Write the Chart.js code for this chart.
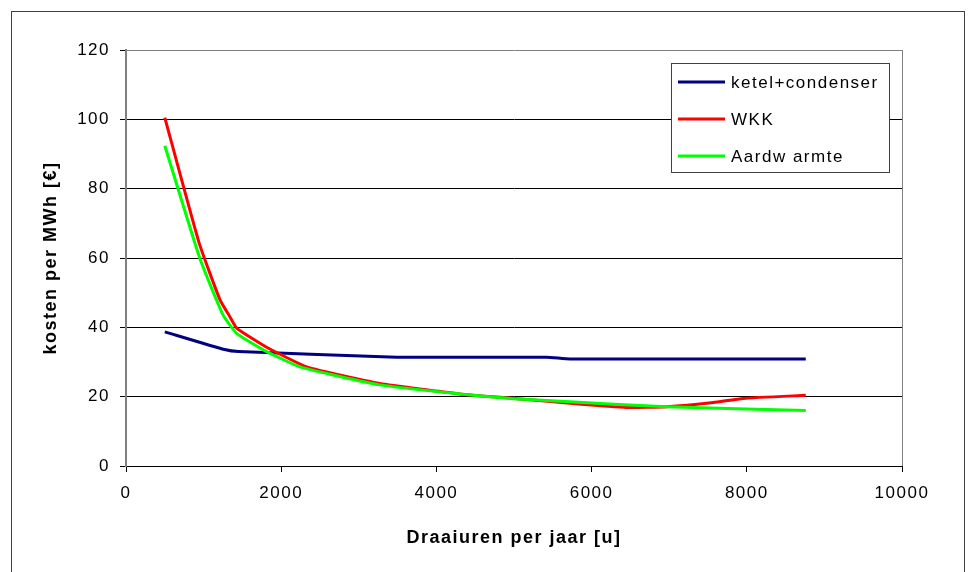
<!DOCTYPE html>
<html>
<head>
<meta charset="utf-8">
<script src="https://cdn.jsdelivr.net/npm/chart.js@4/dist/chart.umd.min.js"></script>
<style>
  html, body { margin: 0; padding: 0; background: #fff; }
  #wrap { width: 968px; height: 572px; }
</style>
</head>
<body>
<div id="wrap"><canvas id="c" width="968" height="572"></canvas></div>
<script>
// Kosten per MWh als functie van het aantal draaiuren per jaar
const seriesNames = ['ketel+condenser', 'WKK', 'Aardw armte'];
const seriesColors = ['#000080', '#FF0000', '#00FF00'];
const drawOrder = [2, 1, 0]; // green on top, then red, then blue

const ketelHours = [500, 1270, 1450, 3490, 5420, 5720, 8760];
const ketelCost  = [38.7, 33.6, 33.0, 31.4, 31.4, 30.9, 30.9];

const wkkHours = [500, 940, 1210, 1340, 1430, 1800, 2330, 3270, 4300, 5000, 5720, 6450, 6970, 7570, 7950, 8760];
const wkkCost  = [100.5, 64.5, 48.0, 43.0, 39.7, 34.4, 28.6, 23.8, 20.8, 19.5, 18.1, 16.9, 17.1, 18.3, 19.5, 20.4];

const aardHours = [500, 950, 1250, 1430, 1770, 2240, 3270, 4300, 5000, 5720, 6970, 8760];
const aardCost  = [92.4, 60.0, 43.6, 38.2, 33.5, 28.6, 23.4, 20.8, 19.4, 18.5, 17.1, 16.0];

const xTitle = 'Draaiuren per jaar [u]';
const yTitle = 'kosten per MWh [€]';

const toPoints = (xs, ys) => xs.map((x, i) => ({ x: x, y: ys[i] }));
const seriesData = [
  toPoints(ketelHours, ketelCost),
  toPoints(wkkHours, wkkCost),
  toPoints(aardHours, aardCost)
];

const FONT = "'Liberation Sans', Arial, sans-serif";

// Wider letter spacing for all canvas text, plus the outer frame
const spacingPlugin = {
  id: 'spacing',
  beforeLayout(chart) { chart.ctx.letterSpacing = '1.5px'; },
  beforeDraw(chart) {
    const ctx = chart.ctx;
    ctx.letterSpacing = '1.5px';
    ctx.save();
    ctx.fillStyle = '#fff';
    ctx.fillRect(0, 0, chart.width, chart.height);
    ctx.strokeStyle = '#404040';
    ctx.lineWidth = 1;
    ctx.strokeRect(11.5, 11.5, 953, 620);
    ctx.restore();
  }
};

// Legend box inside the plot area
const boxLegend = {
  id: 'boxLegend',
  afterDraw(chart) {
    const ctx = chart.ctx;
    ctx.save();
    ctx.letterSpacing = '1.5px';
    ctx.fillStyle = '#fff';
    ctx.fillRect(671.5, 63.5, 218, 109);
    ctx.strokeStyle = '#404040';
    ctx.lineWidth = 1;
    ctx.strokeRect(671.5, 63.5, 218, 109);
    const rows = [82, 119, 156];
    chart.data.datasets.forEach((ds, i) => {
      ctx.strokeStyle = ds.borderColor;
      ctx.lineWidth = 3;
      ctx.beginPath();
      ctx.moveTo(678, rows[i]);
      ctx.lineTo(725, rows[i]);
      ctx.stroke();
      ctx.fillStyle = '#000';
      ctx.font = '17px ' + FONT;
      ctx.textAlign = 'left';
      ctx.textBaseline = 'middle';
      ctx.fillText(ds.label, 731, rows[i] + 1);
    });
    ctx.restore();
  }
};

new Chart(document.getElementById('c'), {
  type: 'scatter',
  data: {
    datasets: seriesData.map((pts, i) => ({
      label: seriesNames[i],
      data: pts,
      order: drawOrder[i],
      showLine: true,
      borderColor: seriesColors[i],
      backgroundColor: seriesColors[i],
      borderWidth: 3,
      pointRadius: 0,
      pointHoverRadius: 0,
      tension: 0.15,
      fill: false
    }))
  },
  options: {
    responsive: false,
    animation: false,
    events: [],
    layout: { padding: { top: 50, right: 66, left: 0, bottom: 0 } },
    plugins: {
      legend: { display: false },
      tooltip: { enabled: false }
    },
    scales: {
      x: {
        type: 'linear',
        min: 0,
        max: 10000,
        afterFit(s) { s.height = 106; },
        ticks: {
          stepSize: 2000,
          color: '#000',
          font: { family: FONT, size: 17 },
          padding: 11,
          maxRotation: 0,
          callback: v => String(v)
        },
        grid: {
          color: c => (c.tick && c.tick.value === 10000) ? '#808080' : 'rgba(0,0,0,0)',
          tickColor: '#000',
          tickLength: 6,
          lineWidth: 1
        },
        border: { display: true, color: '#000', width: 1 },
        title: {
          display: true,
          text: xTitle,
          color: '#000',
          font: { family: FONT, size: 18, weight: 'bold' },
          padding: { top: 0, bottom: 23 }
        }
      },
      y: {
        type: 'linear',
        min: 0,
        max: 120,
        afterFit(s) { s.width = 126; },
        ticks: {
          stepSize: 20,
          color: '#000',
          font: { family: FONT, size: 17 },
          padding: 10,
          callback: v => String(v)
        },
        grid: {
          color: c => (c.tick && c.tick.value === 120) ? '#808080' : '#000',
          tickColor: '#000',
          tickLength: 6,
          lineWidth: 1
        },
        border: { display: true, color: '#808080', width: 2 },
        title: {
          display: true,
          text: yTitle,
          color: '#000',
          font: { family: FONT, size: 18, weight: 'bold' },
          padding: { top: 40, bottom: 0 }
        }
      }
    }
  },
  plugins: [spacingPlugin, boxLegend]
});
</script>
</body>
</html>
